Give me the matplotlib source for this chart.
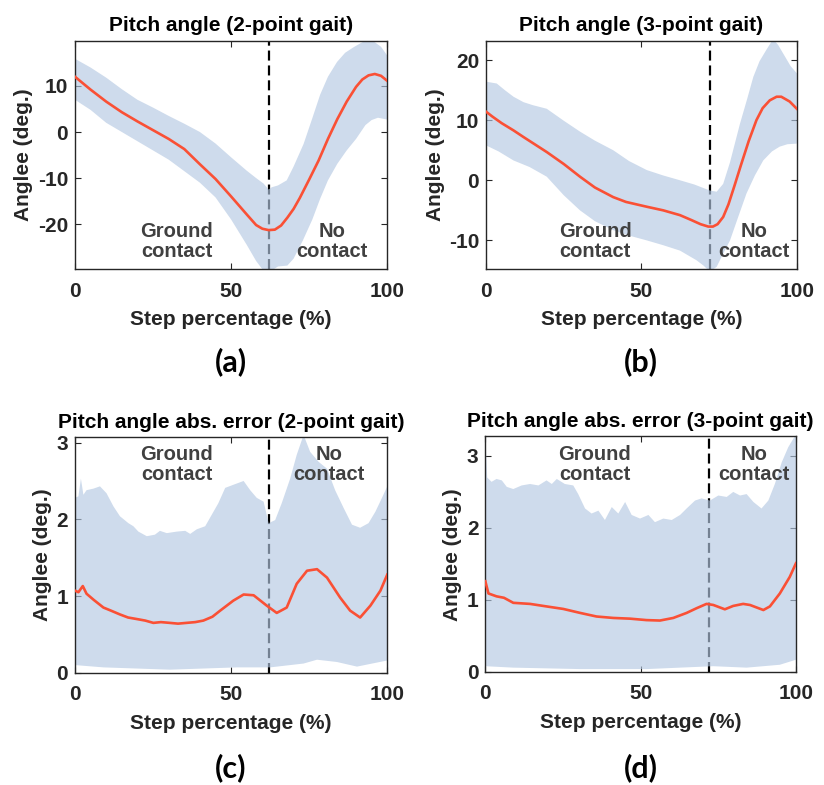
import numpy as np
import matplotlib.pyplot as plt

plt.rcParams['font.family'] = ['Liberation Sans', 'DejaVu Sans']
plt.rcParams['font.weight'] = 'bold'
plt.rcParams['axes.unicode_minus'] = False

# --- (a) pitch angle, 2-point gait ---
a_mean_x = [0, 5, 10, 15, 20, 25, 30, 35, 40, 45, 50, 55, 58, 60, 62, 64, 66, 68, 70, 72, 75, 78, 81, 84, 87, 90,
            92, 94, 96, 98, 100]
a_mean_y = [12.0, 9.2, 6.6, 4.3, 2.3, 0.4, -1.5, -3.7, -7.0, -10.2, -14.0, -17.9, -20.2, -21.0, -21.3, -21.2, -20.3,
            -18.6, -16.7, -14.3, -10.3, -6.2, -1.5, 2.8, 6.6, 9.8, 11.4, 12.3, 12.6, 12.2, 11.1]
a_up_x = [0, 5, 10, 15, 20, 25, 30, 35, 40, 45, 50, 55, 58, 60.4, 62, 63, 65, 67.8, 70, 73.2, 76, 78.5, 81, 83.9,
          86.5, 89.2, 92, 94.5, 96, 98, 100]
a_up_y = [15.9, 14.0, 11.8, 9.3, 7.0, 5.3, 3.5, 1.8, 0.0, -2.5, -5.5, -8.4, -10.0, -11.2, -12.5, -12.0, -11.6, -10.5,
          -7.5, -2.6, 3.0, 8.1, 12.0, 15.2, 17.2, 18.4, 19.5, 19.9, 19.5, 18.5, 16.6]
a_lo_x = [0, 5, 10, 15, 20, 25, 30, 35, 40, 45, 50, 55, 58, 60, 62, 65, 68, 70, 73, 76, 78.5, 81, 84, 87, 90, 93,
          95, 97, 100]
a_lo_y = [7.0, 4.8, 2.0, 0.0, -2.0, -4.0, -6.0, -8.5, -11.0, -14.2, -19.0, -24.5, -28.0, -29.8, -30.5, -29.2,
          -29.0, -27.5, -23.5, -19.0, -14.5, -10.5, -6.9, -4.0, -1.5, 1.5, 2.6, 3.1, 2.7]

# --- (b) pitch angle, 3-point gait ---
b_mean_x = [0, 2, 5, 8.8, 12, 15, 19.5, 25, 30.2, 35, 40.9, 45, 51.7, 57, 62.4, 66, 69, 71.5, 73, 74.5, 76.3, 78,
            80, 82, 84.5, 87, 89, 91.3, 93.5, 95, 97.7, 100]
b_mean_y = [11.4, 10.6, 9.5, 8.3, 7.2, 6.2, 4.7, 2.7, 0.6, -1.2, -2.8, -3.6, -4.4, -5.0, -5.8, -6.6, -7.3, -7.7,
            -7.7, -7.3, -6.1, -4.0, -0.8, 2.5, 6.5, 10.0, 12.0, 13.3, 13.9, 13.9, 13.1, 11.9]
b_up_x = [0, 3.4, 6, 8.8, 12, 15, 19.5, 25, 30.2, 35, 40.9, 46, 51.7, 57, 62.4, 67, 72, 74.2, 76.3, 78.5, 81.7,
          84, 86, 88, 90.2, 92.4, 94, 95.6, 98, 100]
b_up_y = [16.4, 16.1, 15.0, 13.9, 13.0, 12.5, 11.9, 9.9, 8.1, 6.6, 5.0, 3.2, 1.7, 0.8, 0.0, -0.7, -1.7, -1.9,
          -0.6, 3.0, 9.4, 13.5, 17.2, 19.8, 21.7, 23.5, 22.5, 21.1, 19.0, 17.8]
b_lo_x = [0, 4, 8.8, 14, 19.5, 25, 30.2, 35, 40.9, 46, 51.7, 57, 62.4, 67.7, 70, 72, 74.2, 76, 78.5, 81, 83.8,
          86.5, 89.2, 92, 94.5, 97, 100]
b_lo_y = [5.8, 4.8, 3.3, 2.2, 0.6, -2.5, -5.0, -6.8, -8.3, -9.2, -10.0, -10.8, -11.7, -13.3, -14.2, -15.2, -14.4,
          -12.5, -10.0, -6.3, -2.2, 0.8, 3.3, 4.8, 5.6, 6.0, 6.1]

# --- (c) abs. error, 2-point gait ---
c_mean_x = [0, 1.1, 2.5, 3.7, 6, 9.1, 11.5, 14.4, 17, 19.8, 22.5, 25.1, 27.5, 30.4, 33, 35.7, 38.5, 41.1, 44,
            46.5, 50.7, 54, 57.2, 61.4, 64.6, 67.8, 71, 74.3, 77.5, 80.7, 84.9, 88.1, 91.3, 94.6, 97.8, 100]
c_mean_y = [1.07, 1.05, 1.13, 1.03, 0.95, 0.85, 0.81, 0.76, 0.72, 0.70, 0.68, 0.65, 0.66, 0.65, 0.64, 0.65,
            0.66, 0.68, 0.73, 0.81, 0.94, 1.02, 1.01, 0.875, 0.78, 0.85, 1.16, 1.33, 1.35, 1.24, 0.98, 0.81,
            0.72, 0.875, 1.07, 1.28]
c_up_x = [0, 1.1, 1.9, 2.7, 3.7, 5.9, 8, 10.1, 12.3, 14.4, 17.1, 18.7, 20.3, 23, 25.6, 27.2, 29.4, 32.6, 35.3,
          36.9, 39, 41.7, 43.8, 45.9, 48.1, 50.7, 54, 56.1, 58.2, 60.4, 62, 64.1, 66.2, 68.9, 71, 73.2, 75.3, 78,
          80.7, 83.3, 86, 88.7, 91.3, 94, 96.2, 98.3, 100]
c_up_y = [2.28, 2.30, 2.53, 2.32, 2.38, 2.40, 2.43, 2.34, 2.17, 2.04, 1.95, 1.91, 1.84, 1.78, 1.80, 1.85, 1.82,
          1.84, 1.85, 1.81, 1.87, 1.91, 2.06, 2.21, 2.41, 2.45, 2.50, 2.38, 2.28, 2.23, 1.95, 1.99, 2.21, 2.53,
          2.84, 3.10, 2.88, 2.75, 2.66, 2.38, 2.15, 1.93, 1.89, 1.95, 2.10, 2.28, 2.43]
c_lo_x = [0, 9.1, 30.4, 51.8, 62.5, 73.2, 77.5, 83.9, 90.3, 100]
c_lo_y = [0.10, 0.07, 0.04, 0.07, 0.07, 0.12, 0.17, 0.14, 0.08, 0.16]

# --- (d) abs. error, 3-point gait ---
d_mean_x = [0, 1, 3.6, 6, 9, 14.4, 19.7, 25.1, 30.5, 35.8, 41.2, 46.6, 51.9, 56.2, 60.5, 64.8, 68, 71.2, 73.4,
            77.1, 79.8, 83, 85.2, 89.5, 91.6, 94.8, 98, 100]
d_mean_y = [1.26, 1.09, 1.05, 1.03, 0.96, 0.945, 0.91, 0.875, 0.82, 0.77, 0.75, 0.74, 0.72, 0.714, 0.75, 0.82,
            0.885, 0.945, 0.93, 0.87, 0.917, 0.945, 0.93, 0.86, 0.91, 1.09, 1.32, 1.51]
d_up_x = [0, 0.6, 2, 3.6, 5.3, 6.9, 9, 11.7, 14.4, 17.1, 19.7, 21.4, 23, 25.6, 28.3, 29.9, 32.1, 34.2, 36.4, 38.5,
          40.7, 42.8, 45, 47.1, 49.8, 52.5, 54.6, 57.3, 60, 62.7, 64.8, 67.5, 69.6, 72.3, 75, 77.7, 79.8, 82,
          84.1, 86.3, 88.9, 91.1, 93.2, 95.4, 97.5, 100]
d_up_y = [3.30, 2.70, 2.64, 2.68, 2.66, 2.57, 2.54, 2.59, 2.61, 2.59, 2.66, 2.61, 2.68, 2.61, 2.59, 2.47, 2.27,
          2.20, 2.24, 2.11, 2.29, 2.20, 2.36, 2.18, 2.13, 2.18, 2.08, 2.13, 2.11, 2.18, 2.27, 2.38, 2.41, 2.38,
          2.45, 2.43, 2.50, 2.45, 2.47, 2.36, 2.27, 2.38, 2.61, 2.91, 3.12, 3.30]
d_lo_x = [0, 9, 30.5, 51.9, 73.4, 84.1, 94.8, 100]
d_lo_y = [0.08, 0.06, 0.04, 0.04, 0.08, 0.06, 0.10, 0.17]

BAND = '#b4c8e2'
LINE = '#fa5035'
TXT = '#404040'
AX = '#262626'


def panel(ax, mx, my, ux, uy, lx, ly, split, ylim, yticks, title, txt_y, gx, nx):
    ax.axvline(split, color='k', ls=(0, (4.5, 2.2)), lw=1.6, zorder=1)
    ax.fill(list(ux) + list(lx[::-1]), list(uy) + list(ly[::-1]),
            color=BAND, alpha=0.65, lw=0, zorder=2)
    ax.plot(mx, my, color=LINE, lw=1.9, zorder=3)
    ax.set_xlim(0, 100)
    ax.set_ylim(*ylim)
    ax.set_xticks([0, 50, 100])
    ax.set_yticks(yticks)
    ax.tick_params(axis='x', pad=9)
    ax.tick_params(axis='y', pad=5)
    ax.tick_params(direction='in', length=4, top=True, right=True, labelsize=15,
                   colors=AX)
    for s in ax.spines.values():
        s.set_color(AX)
        s.set_linewidth(1)
    ax.set_title(title, fontsize=15, fontweight='bold', pad=7)
    ax.set_xlabel('Step percentage (%)', fontsize=15, fontweight='bold', color=AX, labelpad=7)
    ax.set_ylabel('Anglee (deg.)', fontsize=15, fontweight='bold', color=AX, labelpad=3)
    ax.text(gx, txt_y, 'Ground\ncontact', ha='center', va='center', fontsize=14.5,
            fontweight='bold', color=TXT, zorder=5, linespacing=1.05)
    ax.text(nx, txt_y, 'No\ncontact', ha='center', va='center', fontsize=14.5,
            fontweight='bold', color=TXT, zorder=5, linespacing=1.05)


fig = plt.figure(figsize=(8.24, 7.85), dpi=100)
axa = fig.add_axes([0.091, 0.657, 0.379, 0.291])
axb = fig.add_axes([0.590, 0.657, 0.377, 0.291])
axc = fig.add_axes([0.091, 0.143, 0.379, 0.300])
axd = fig.add_axes([0.589, 0.144, 0.377, 0.300])

panel(axa, a_mean_x, a_mean_y, a_up_x, a_up_y, a_lo_x, a_lo_y, 62, (-29.8, 19.8),
      [-20, -10, 0, 10], 'Pitch angle (2-point gait)', -23.7, 32.5, 82.3)
panel(axb, b_mean_x, b_mean_y, b_up_x, b_up_y, b_lo_x, b_lo_y, 72, (-14.8, 23.2),
      [-10, 0, 10, 20], 'Pitch angle (3-point gait)', -10.2, 35.1, 86.3)
panel(axc, c_mean_x, c_mean_y, c_up_x, c_up_y, c_lo_x, c_lo_y, 62, (0, 3.07),
      [0, 1, 2, 3], 'Pitch angle abs. error (2-point gait)', 2.71, 32.5, 81.4)
panel(axd, d_mean_x, d_mean_y, d_up_x, d_up_y, d_lo_x, d_lo_y, 72, (0, 3.27),
      [0, 1, 2, 3], 'Pitch angle abs. error (3-point gait)', 2.88, 35.2, 86.6)

for lab, x, y in [('(a)', 231, 362), ('(b)', 641, 362), ('(c)', 231, 768), ('(d)', 641, 768)]:
    fig.text(x / 824, 1 - y / 785, lab, ha='center', va='center', fontsize=22,
             fontweight='bold', family=['Lato', 'DejaVu Sans'])

fig.savefig('out.png', dpi=100)
